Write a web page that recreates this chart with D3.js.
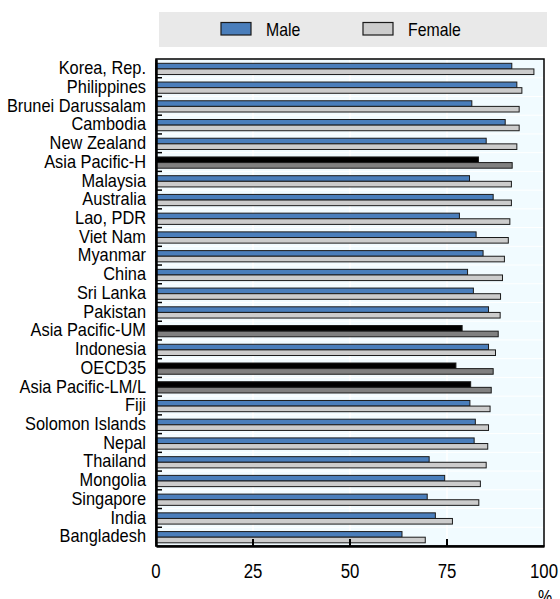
<!DOCTYPE html>
<html>
<head>
<meta charset="utf-8">
<script src="https://cdn.jsdelivr.net/npm/d3@7/dist/d3.min.js"></script>
<style>
  body { margin: 0; background: #fff; }
  svg { display: block; }
  svg text { font-family: "Liberation Sans", Arial, sans-serif; fill: #000; }
</style>
</head>
<body>
<svg id="chart" width="560" height="599"></svg>
<script>
// Categories, top to bottom
const categories = [
  "Korea, Rep.", "Philippines", "Brunei Darussalam", "Cambodia", "New Zealand",
  "Asia Pacific-H", "Malaysia", "Australia", "Lao, PDR", "Viet Nam", "Myanmar",
  "China", "Sri Lanka", "Pakistan", "Asia Pacific-UM", "Indonesia", "OECD35",
  "Asia Pacific-LM/L", "Fiji", "Solomon Islands", "Nepal", "Thailand",
  "Mongolia", "Singapore", "India", "Bangladesh"
];
// Series values (%)
const male = [
  91.7, 93.0, 81.4, 90.0, 85.1, 83.1, 80.8, 86.9, 78.2, 82.5, 84.3,
  80.3, 81.8, 85.7, 78.9, 85.7, 77.3, 81.1, 80.9, 82.3, 82.0, 70.4,
  74.4, 69.9, 72.0, 63.4
];
const female = [
  97.4, 94.3, 93.6, 93.6, 93.0, 91.8, 91.6, 91.6, 91.2, 90.8, 89.8,
  89.3, 88.8, 88.7, 88.2, 87.5, 86.9, 86.4, 86.1, 85.7, 85.5, 85.1,
  83.6, 83.2, 76.4, 69.4
];
// Regional / OECD aggregates drawn in dark tones
const aggregates = ["Asia Pacific-H", "Asia Pacific-UM", "OECD35", "Asia Pacific-LM/L"];
const xTicks = [0, 25, 50, 75, 100];
const seriesNames = ["Male", "Female"];

const svg = d3.select("#chart");
const plotL = 156, plotR = 544, plotT = 59, plotB = 546;
const narrow = 0.91; // horizontal squeeze for a narrow-face look

const x = d3.scaleLinear().domain([0, 100]).range([plotL, plotR]);
const y = d3.scaleBand().domain(categories).range([plotT, plotB]).padding(0);
const bw = y.bandwidth();

// Plot background
svg.append("rect")
  .attr("x", plotL).attr("y", plotT)
  .attr("width", plotR - plotL).attr("height", plotB - plotT)
  .attr("fill", "#f1fbff");

// White gridlines
svg.append("g").selectAll("line")
  .data(xTicks.slice(1, -1))
  .join("line")
  .attr("x1", d => x(d)).attr("x2", d => x(d))
  .attr("y1", plotT).attr("y2", plotB)
  .attr("stroke", "#ffffff").attr("stroke-width", 1.5);
svg.append("g").selectAll("line")
  .data(categories.slice(1))
  .join("line")
  .attr("x1", plotL).attr("x2", plotR)
  .attr("y1", d => y(d)).attr("y2", d => y(d))
  .attr("stroke", "#ffffff").attr("stroke-width", 1);

// Bars
const rows = categories.map((c, i) => ({ c, m: male[i], f: female[i], agg: aggregates.includes(c) }));
const g = svg.append("g");
g.selectAll("rect.male")
  .data(rows)
  .join("rect")
  .attr("class", "male")
  .attr("x", x(0))
  .attr("y", d => y(d.c) + bw * 0.23)
  .attr("width", d => x(d.m) - x(0))
  .attr("height", bw * 0.3)
  .attr("fill", d => d.agg ? "#000000" : "#4a7ebb")
  .attr("stroke", "#1a1a1a").attr("stroke-width", 1);
g.selectAll("rect.female")
  .data(rows)
  .join("rect")
  .attr("class", "female")
  .attr("x", x(0))
  .attr("y", d => y(d.c) + bw * 0.53)
  .attr("width", d => x(d.f) - x(0))
  .attr("height", bw * 0.3)
  .attr("fill", d => d.agg ? "#808080" : "#cccccc")
  .attr("stroke", "#1a1a1a").attr("stroke-width", 1);

// Frame
svg.append("rect")
  .attr("x", plotL).attr("y", plotT)
  .attr("width", plotR - plotL).attr("height", plotB - plotT)
  .attr("fill", "none").attr("stroke", "#000").attr("stroke-width", 1.5);

// Category axis
const yAxis = svg.append("g").attr("transform", `translate(${plotL},0)`)
  .call(d3.axisLeft(y).tickSize(0).tickPadding(10));
yAxis.select(".domain").attr("stroke", "#000").attr("stroke-width", 2.5);
yAxis.selectAll("text")
  .attr("font-size", 18)
  .attr("font-family", null)
  .attr("fill", "#000")
  .attr("x", -10 / narrow)
  .attr("transform", `scale(${narrow},1)`);
// Short separator ticks between categories
svg.append("g").selectAll("line")
  .data(categories.slice(1))
  .join("line")
  .attr("x1", plotL).attr("x2", plotL + 6)
  .attr("y1", d => y(d)).attr("y2", d => y(d))
  .attr("stroke", "#000").attr("stroke-width", 1.5);

// Value axis
const xAxis = svg.append("g").attr("transform", `translate(0,${plotB})`)
  .call(d3.axisBottom(x).tickValues(xTicks).tickSize(0).tickPadding(17));
xAxis.select(".domain").attr("stroke", "#000").attr("stroke-width", 2.5);
xAxis.selectAll(".tick").each(function(d) {
  // re-anchor each label so the squeeze stays centred on its tick
  d3.select(this).attr("transform", `translate(${x(d)},0) scale(0.8,1)`);
});
xAxis.selectAll("text")
  .attr("font-size", 21)
  .attr("font-family", null)
  .attr("fill", "#000");
// Inward ticks
svg.append("g").selectAll("line")
  .data(xTicks.slice(1, -1))
  .join("line")
  .attr("x1", d => x(d)).attr("x2", d => x(d))
  .attr("y1", plotB).attr("y2", plotB - 7)
  .attr("stroke", "#000").attr("stroke-width", 2);
svg.append("text")
  .attr("transform", `translate(${x(100) + 1},604) scale(0.8,1)`)
  .attr("text-anchor", "middle")
  .attr("font-size", 20)
  .text("%");

// Legend
const legend = svg.append("g");
legend.append("rect")
  .attr("x", 159).attr("y", 12).attr("width", 388).attr("height", 35)
  .attr("fill", "#e9e9e9");
const legX = [221, 363];
const legFill = ["#4a7ebb", "#cccccc"];
seriesNames.forEach((s, i) => {
  legend.append("rect")
    .attr("x", legX[i]).attr("y", 22.5).attr("width", 30).attr("height", 12.5)
    .attr("fill", legFill[i]).attr("stroke", "#1a1a1a").attr("stroke-width", 1.2);
  legend.append("text")
    .attr("transform", `translate(${legX[i] + 45},36) scale(0.88,1)`)
    .attr("font-size", 18)
    .text(s);
});
</script>
</body>
</html>
